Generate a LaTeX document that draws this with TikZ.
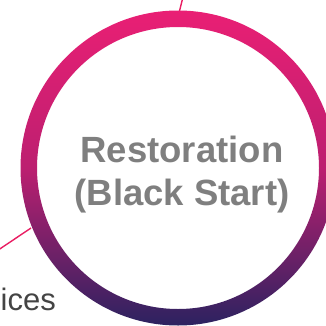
\documentclass[tikz,border=0pt]{standalone}
\usepackage{fontspec}
\setmainfont{Liberation Sans}
\definecolor{ringtop}{RGB}{233,31,116}
\definecolor{ringmid}{RGB}{188,31,112}
\definecolor{ringbot}{RGB}{44,34,96}
\definecolor{linkpink}{RGB}{233,30,99}
\definecolor{labelgray}{RGB}{127,127,127}
\definecolor{sidegray}{RGB}{68,68,68}
\tikzset{
  link/.style={draw=linkpink, line width=1.4pt},
  maintext/.style={text=labelgray, font=\fontsize{36.5}{43}\selectfont\bfseries, anchor=base, inner sep=0pt},
  sidetext/.style={text=sidegray, font=\fontsize{31}{36}\selectfont, anchor=base west, inner sep=0pt}
}
\begin{document}
\begin{tikzpicture}[x=1pt,y=1pt]
\clip (0,0) rectangle (326,325);
\useasboundingbox (0,0) rectangle (326,325);
\coordinate (c) at (178,157);
\coordinate (topend) at (182.5,326);
\coordinate (leftend) at (-1,75.5);
\coordinate (topring) at (179,312);
\coordinate (leftring) at (31,97);
\draw[link] (topend) -- (topring);
\draw[link] (leftend) -- (leftring);
\shade[top color=ringtop, bottom color=ringbot, middle color=ringmid, even odd rule]
  (c) circle[radius=157.5] (c) circle[radius=141];
\node[maintext] (l1) at (182,163) {Restoration};
\node[maintext] (l2) at (182,120) {(Black Start)};
\node[sidetext] (svc) at (0.5,15) {ices};
\end{tikzpicture}
\end{document}
